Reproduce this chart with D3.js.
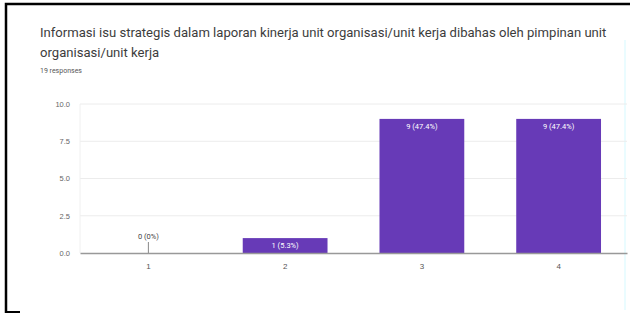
<!DOCTYPE html>
<html>
<head>
<meta charset="utf-8">
<script src="https://cdn.jsdelivr.net/npm/d3@7"></script>
<style>
  body { margin: 0; background: #fff; }
  svg { display: block; font-family: Roboto, Arial, sans-serif; }
</style>
</head>
<body>
<svg id="chart" width="630" height="315"></svg>
<script>
// answer options, counts and the labels shown on the bars
const categories = ['1', '2', '3', '4'];
const counts = [0, 1, 9, 9];
const barLabels = ['0 (0%)', '1 (5.3%)', '9 (47.4%)', '9 (47.4%)'];
const yTicks = [0, 2.5, 5, 7.5, 10];

const svg = d3.select('#chart');

// frame lines of the screenshot
svg.append('path')
  .attr('d', 'M6,313 L6,4 L630,4')
  .attr('fill', 'none')
  .attr('stroke', '#000')
  .attr('stroke-width', 2.5);
svg.append('line')
  .attr('x1', 6).attr('x2', 20).attr('y1', 312).attr('y2', 312)
  .attr('stroke', '#000').attr('stroke-width', 2);
svg.append('line')
  .attr('x1', 625).attr('x2', 625).attr('y1', 40).attr('y2', 310)
  .attr('stroke', '#eafcff').attr('stroke-width', 2);

// title + response count
svg.append('text')
  .attr('x', 40).attr('y', 37)
  .attr('font-size', 13.1).attr('fill', '#3c3c3c')
  .text('Informasi isu strategis dalam laporan kinerja unit organisasi/unit kerja dibahas oleh pimpinan unit');
svg.append('text')
  .attr('x', 40).attr('y', 57)
  .attr('font-size', 13.1).attr('fill', '#3c3c3c')
  .text('organisasi/unit kerja');
svg.append('text')
  .attr('x', 40).attr('y', 73)
  .attr('font-size', 7).attr('fill', '#555')
  .text('19 responses');

const plotLeft = 80, plotRight = 627, plotTop = 104, plotBottom = 253;

const x = d3.scaleBand().domain(categories).range([plotLeft, plotRight]).paddingInner(0.38).paddingOuter(0.19);
const y = d3.scaleLinear().domain([0, 10]).range([plotBottom, plotTop]);

// gridlines
svg.append('g')
  .selectAll('line')
  .data(yTicks.slice(1))
  .join('line')
  .attr('x1', plotLeft).attr('x2', plotRight)
  .attr('y1', d => y(d)).attr('y2', d => y(d))
  .attr('stroke', '#ececec');
svg.append('line')
  .attr('x1', plotLeft).attr('x2', plotLeft).attr('y1', plotTop).attr('y2', plotBottom)
  .attr('stroke', '#f0f0f0');

// y axis labels
const yAxis = d3.axisLeft(y).tickValues(yTicks).tickFormat(d3.format('.1f')).tickSize(0).tickPadding(10);
const gy = svg.append('g').attr('transform', `translate(${plotLeft},0)`).call(yAxis);
gy.select('.domain').remove();
gy.selectAll('text').attr('font-size', 7.5).attr('fill', '#666');

// bars
svg.append('g')
  .selectAll('rect')
  .data(counts)
  .join('rect')
  .attr('x', (d, i) => x(categories[i]))
  .attr('y', d => y(d))
  .attr('width', x.bandwidth())
  .attr('height', d => y(0) - y(d))
  .attr('fill', '#673ab7');

// labels in the bars (or above them when empty)
svg.append('g')
  .selectAll('text')
  .data(counts)
  .join('text')
  .attr('x', (d, i) => x(categories[i]) + x.bandwidth() / 2)
  .attr('y', d => d > 0 ? y(d) + 10 : y(0) - 14)
  .attr('text-anchor', 'middle')
  .attr('font-size', 7.5)
  .attr('fill', d => d > 0 ? '#fff' : '#444')
  .text((d, i) => barLabels[i]);

// leader line for the empty bar
svg.append('g')
  .selectAll('line')
  .data(categories.filter((c, i) => counts[i] === 0))
  .join('line')
  .attr('x1', c => x(c) + x.bandwidth() / 2)
  .attr('x2', c => x(c) + x.bandwidth() / 2)
  .attr('y1', y(0) - 11).attr('y2', y(0))
  .attr('stroke', '#888');

// baseline and x labels
const xAxis = d3.axisBottom(x).tickSize(0).tickPadding(10);
const gx = svg.append('g').attr('transform', `translate(0,${plotBottom})`).call(xAxis);
gx.select('.domain').attr('stroke', '#999').attr('stroke-width', 1.3);
gx.selectAll('text').attr('font-size', 8).attr('fill', '#555');
</script>
</body>
</html>
